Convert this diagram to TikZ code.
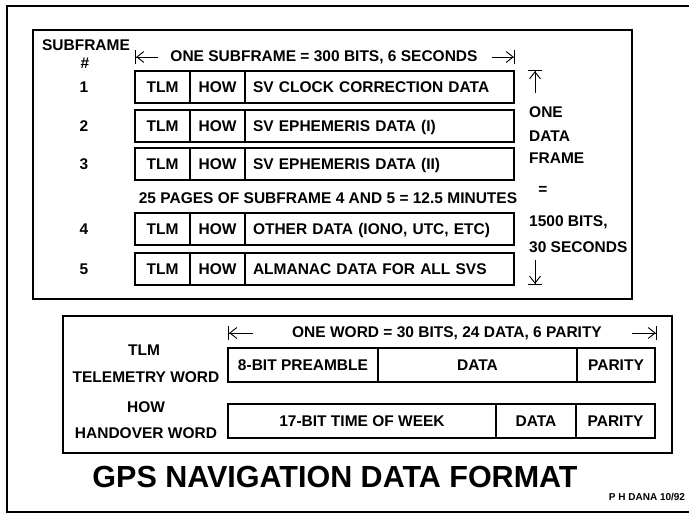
\documentclass[tikz,border=0pt]{standalone}
\usepackage{fontspec}
\setmainfont{Liberation Sans}
\usetikzlibrary{arrows.meta,positioning}
\tikzset{
    lbl/.style={inner sep=0pt, font=\fontsize{15.5}{15.5}\selectfont\bfseries},
    cell/.style={draw, line width=1.3pt, outer sep=0pt, inner sep=0pt, minimum height=32,
        text height=11pt, text depth=0pt, font=\fontsize{15.5}{15.5}\selectfont\bfseries},
    wordcell/.style={cell, minimum height=34},
    panel/.style={draw, line width=1.4pt, outer sep=0pt, anchor=north west},
    dim/.style={line width=0.9pt,
        -{Straight Barb[length=7pt, width=11pt, sep=0pt]Bar[width=14pt, line width=1.2pt, sep=0pt]}},
}
\begin{document}
\begin{tikzpicture}[x=1pt, y=-1pt]
    \useasboundingbox (0,0) rectangle (689,516);
    \draw[line width=2.4pt] (689,6) -- (7,6) -- (7,512) -- (689,512);

    % subframes
    \node[panel, minimum width=599, minimum height=269] (upper) at (33,30) {};
    \node[lbl] (sfhead) at (86,45) {SUBFRAME};
    \node[lbl] (sfhash) at (85,63) {\#};
    \node[lbl] (sflen) at (324,57) {ONE SUBFRAME = 300 BITS, 6 SECONDS};
    \coordinate (sfLa) at (158,57);
    \coordinate (sfL) at (135,57);
    \coordinate (sfRa) at (492,57);
    \coordinate (sfR) at (515,57);
    \draw[dim] (sfLa) -- (sfL);
    \draw[dim] (sfRa) -- (sfR);

    \foreach \n/\y/\txt in {1/87/SV CLOCK CORRECTION DATA, 2/126/SV EPHEMERIS DATA (I),
        3/164/SV EPHEMERIS DATA (II), 4/229/{OTHER DATA (IONO, UTC, ETC)},
        5/269/ALMANAC DATA FOR ALL SVS} {
        \node[lbl] (num\n) at (84,\y) {\n};
        \node[cell, minimum width=55, anchor=west] (tlm\n) at (135,\y) {TLM};
        \node[cell, minimum width=55, right=0pt of tlm\n] (how\n) {HOW};
        \node[cell, text width=253, inner xsep=8pt, align=left, right=0pt of how\n] (sf\n) {\txt};
    }
    \node[lbl] (pages) at (328,198) {25 PAGES OF SUBFRAME 4 AND 5 = 12.5 MINUTES};

    % one data frame
    \coordinate (frTa) at (535,93);
    \coordinate (frT) at (535,70);
    \draw[dim] (frTa) -- (frT);
    \node[lbl, anchor=west] (frone) at (529,112) {ONE};
    \node[lbl, anchor=west] (frdata) at (529,136) {DATA};
    \node[lbl, anchor=west] (frname) at (529,158) {FRAME};
    \node[lbl] (freq) at (543,190) {=};
    \node[lbl, anchor=west] (frbits) at (529,222) {1500 BITS,};
    \node[lbl, anchor=west] (frsec) at (529,247) {30 SECONDS};
    \coordinate (frBa) at (535,260);
    \coordinate (frB) at (535,285);
    \draw[dim] (frBa) -- (frB);

    % words
    \node[panel, minimum width=609, minimum height=137] (lower) at (63,316) {};
    \node[lbl] (wdlen) at (447,333) {ONE WORD = 30 BITS, 24 DATA, 6 PARITY};
    \coordinate (wdLa) at (253,333);
    \coordinate (wdL) at (228,333);
    \coordinate (wdRa) at (632,333);
    \coordinate (wdR) at (657,333);
    \draw[dim] (wdLa) -- (wdL);
    \draw[dim] (wdRa) -- (wdR);

    \node[lbl] (tlmname) at (144,350) {TLM};
    \node[lbl] (tlmlong) at (146,377) {TELEMETRY WORD};
    \node[wordcell, minimum width=150, anchor=west] (pre) at (228,365) {8-BIT PREAMBLE};
    \node[wordcell, minimum width=199, right=0pt of pre] (tlmdata) {DATA};
    \node[wordcell, minimum width=78, right=0pt of tlmdata] (tlmpar) {PARITY};

    \node[lbl] (howname) at (146,407) {HOW};
    \node[lbl] (howlong) at (146,433) {HANDOVER WORD};
    \node[wordcell, minimum width=268, anchor=west] (tow) at (228,421) {17-BIT TIME OF WEEK};
    \node[wordcell, minimum width=80, right=0pt of tow] (howdata) {DATA};
    \node[wordcell, minimum width=79, right=0pt of howdata] (howpar) {PARITY};

    \node[font=\fontsize{30.5}{30.5}\selectfont\bfseries] (title) at (335,477) {GPS NAVIGATION DATA FORMAT};
    \node[font=\fontsize{10}{10}\selectfont\bfseries] (credit) at (647,497) {P H DANA 10/92};
\end{tikzpicture}
\end{document}
